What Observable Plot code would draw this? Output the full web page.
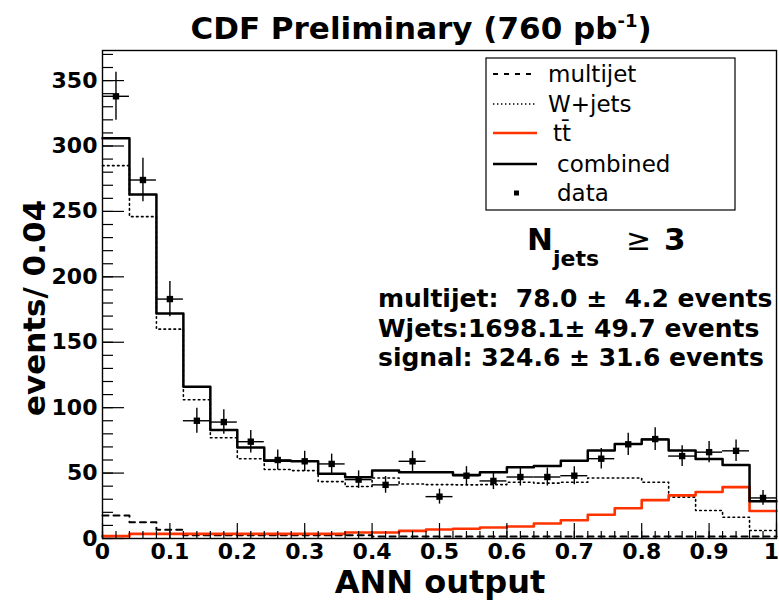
<!DOCTYPE html>
<html><head><meta charset="utf-8">
<script src="https://cdn.jsdelivr.net/npm/d3@7"></script>
<script src="https://cdn.jsdelivr.net/npm/@observablehq/plot@0.6"></script>
<style>
body{margin:0;background:#fff}
svg text{font-family:"DejaVu Sans";white-space:pre}
</style>
</head><body><div id="chart"></div>
<script>
// ---- data ----
const binCenters = [0.02,0.06,0.10,0.14,0.18,0.22,0.26,0.30,0.34,0.38,0.42,0.46,0.50,0.54,0.58,0.62,0.66,0.70,0.74,0.78,0.82,0.86,0.90,0.94,0.98];
const binWidth = 0.04;
const dataCounts = [338,274,183,90,89,74,60,59,57,45,41,59,32,48,44,47,47,48,61,72,76,63,66,67,31];
const dataErrors = [18.4,16.6,13.5,9.5,9.4,8.6,7.7,7.7,7.5,6.7,6.4,7.7,5.7,6.9,6.6,6.9,6.9,6.9,7.8,8.5,8.7,7.9,8.1,8.2,5.6];
const combined = [306,263,172,116,83,69.5,59.5,59,49.4,46.8,51.9,50.6,50.6,48.6,50.6,54.4,55.5,59.5,67.2,72.3,75.6,67.2,60.8,56.2,28.5];
const wjets = [285,246,160,106,77,61,52.7,51.9,43.5,39.7,46.3,41.7,41.2,41,41.2,43,42.3,43,46.3,46.3,43,31.6,21.4,16.3,6.1];
const ttbar = [1.8,3.5,3.5,3.5,3.5,3.5,3.5,3.5,3.5,4.6,4.6,5.8,6.9,7.4,8.4,9.2,11.5,14,18.2,23.1,29.3,33,35.5,39.3,21];
const multijet = [17.5,12.5,6.6,2.4,2.4,2.4,2.4,2.4,2.4,2.4,1.5,1.5,1.5,1.5,1.5,1.5,1.5,1.5,1.5,1.5,1.5,1.5,1.5,1.5,1.5];
const xTicks = [0,0.1,0.2,0.3,0.4,0.5,0.6,0.7,0.8,0.9,1];
const xTickLabels = ["0","0.1","0.2","0.3","0.4","0.5","0.6","0.7","0.8","0.9","1"];
const yTicks = [0,50,100,150,200,250,300,350];
const yTickLabels = ["0","50","100","150","200","250","300","350"];
const legendLabels = ["multijet","W+jets","tt\u0304","combined","data"];
const title = "CDF Preliminary (760 pb";
const titleSup = "-1";
const xTitle = "ANN output";
const yTitle = "events/ 0.04";
const statLines = ["multijet:  78.0 \u00b1  4.2 events","Wjets:1698.1\u00b1 49.7 events","signal: 324.6 \u00b1 31.6 events"];

// ---- layout ----
const W = 779, H = 603;
const mL = 102, mR = 3, mT = 50, mB = 65;
const fW = W - mL - mR, fH = H - mT - mB;

function steps(values){
  const pts = values.map((v,i)=>({x: binCenters[i]-binWidth/2, y: v}));
  pts.push({x: binCenters[binCenters.length-1]+binWidth/2, y: values[values.length-1]});
  return pts;
}
const rows = binCenters.map((x,i)=>({x, y: dataCounts[i], e: dataErrors[i]}));
const xMinor = d3.range(0, 1.0001, 0.02);
const yMinor = d3.range(0, 371, 10);
const xLab = new Map(xTicks.map((t,i)=>[t,xTickLabels[i]]));
const yLab = new Map(yTicks.map((t,i)=>[t,yTickLabels[i]]));
const red = "#ff3300";

const chart = Plot.plot({
  width: W, height: H,
  marginLeft: mL, marginRight: mR, marginTop: mT, marginBottom: mB,
  style: {fontFamily: "DejaVu Sans", background: "white", color: "black"},
  x: {domain: [0,1]},
  y: {domain: [0,373]},
  marks: [
    Plot.line(steps(wjets), {x:"x", y:"y", curve:"step-after", stroke:"black", strokeWidth:1.6, strokeDasharray:"1.6,3.4"}),
    Plot.line(steps(multijet), {x:"x", y:"y", curve:"step-after", stroke:"black", strokeWidth:2, strokeDasharray:"6,5"}),
    Plot.line(steps(ttbar), {x:"x", y:"y", curve:"step-after", stroke:red, strokeWidth:2.6}),
    Plot.line(steps(combined), {x:"x", y:"y", curve:"step-after", stroke:"black", strokeWidth:2.5}),
    Plot.ruleX(rows, {x:"x", y1: d=>d.y-d.e, y2: d=>d.y+d.e, stroke:"black", strokeWidth:1.4}),
    Plot.ruleY(rows, {y:"y", x1: d=>d.x-binWidth/2, x2: d=>d.x+binWidth/2, stroke:"black", strokeWidth:1.4}),
    Plot.dot(rows, {x:"x", y:"y", symbol:"square", r:3.6, fill:"black", stroke:"none"}),
    Plot.tickX(xMinor, {x: d=>d, insetTop: fH-7, stroke:"black", strokeWidth:1.2}),
    Plot.tickX(xTicks, {x: d=>d, insetTop: fH-15, stroke:"black", strokeWidth:1.2}),
    Plot.tickY(yMinor, {y: d=>d, insetRight: fW-11, stroke:"black", strokeWidth:1.2}),
    Plot.tickY(yTicks, {y: d=>d, insetRight: fW-22, stroke:"black", strokeWidth:1.2}),
    Plot.axisX({ticks: xTicks, tickFormat: d=>xLab.get(d), tickSize: 0, tickPadding: 5, fontSize: 22, fontWeight: "bold", label: null}),
    Plot.axisY({ticks: yTicks, tickFormat: d=>yLab.get(d), tickSize: 0, tickPadding: 5, fontSize: 22, fontWeight: "bold", label: null}),
    Plot.frame({stroke:"black", strokeWidth:1.4})
  ]
});
document.getElementById("chart").appendChild(chart);

const svg = d3.select(chart);
// keep the last x tick label ("1") inside the picture
svg.selectAll("text").filter(function(){ return this.textContent === "1" && this.closest("[aria-label='x-axis tick label']"); })
  .attr("dx", -5);

// ---- texts, legend ----
const g = svg.append("g").attr("font-family","DejaVu Sans").attr("fill","black").attr("text-anchor","start");

const t = g.append("text").attr("x", 421).attr("y", 39).attr("text-anchor","middle")
  .attr("font-size",31).attr("font-weight","bold");
t.append("tspan").text(title);
t.append("tspan").attr("font-size",18).attr("dy",-12).text(titleSup);
t.append("tspan").attr("dy",12).text(")");

g.append("text").attr("x", 440).attr("y", 593).attr("text-anchor","middle")
  .attr("font-size",32).attr("font-weight","bold").text(xTitle);
g.append("text").attr("transform","translate(45,308) rotate(-90)").attr("text-anchor","middle")
  .attr("font-size",31).attr("font-weight","bold").text(yTitle);

// legend
const lg = g.append("g");
lg.append("rect").attr("x",486).attr("y",58).attr("width",249).attr("height",152)
  .attr("fill","white").attr("stroke","black").attr("stroke-width",1.2);
const ly = [74,104,133,164,193];
const lx = [548,548,553,557,557];
const styles = [
  {stroke:"black", w:2, dash:"5,6"},
  {stroke:"black", w:1.4, dash:"1.4,2.6"},
  {stroke:red, w:2.4, dash:null},
  {stroke:"black", w:2.4, dash:null},
  null
];
legendLabels.forEach((lab,i)=>{
  const s = styles[i];
  if (s) {
    const l = lg.append("line").attr("x1",493).attr("x2",537).attr("y1",ly[i]).attr("y2",ly[i])
      .attr("stroke",s.stroke).attr("stroke-width",s.w);
    if (s.dash) l.attr("stroke-dasharray",s.dash);
  } else {
    lg.append("rect").attr("x",514).attr("y",ly[i]-2.5).attr("width",5).attr("height",5).attr("fill","black");
  }
  lg.append("text").attr("x",lx[i]).attr("y",ly[i]+8).attr("font-size",23).text(lab);
});

// N_jets >= 3
g.append("text").attr("x",527).attr("y",250).attr("font-size",31).attr("font-weight","bold").text("N");
g.append("text").attr("x",553).attr("y",266).attr("font-size",22).attr("font-weight","bold").text("jets");
g.append("text").attr("x",626).attr("y",250).attr("font-size",30).text("\u2265");
g.append("text").attr("x",664).attr("y",250).attr("font-size",31).attr("font-weight","bold").text("3");

statLines.forEach((s,i)=>{
  g.append("text").attr("x",378).attr("y",307+i*29.5).attr("font-size",25).attr("font-weight","bold").text(s);
});
</script>
</body></html>
